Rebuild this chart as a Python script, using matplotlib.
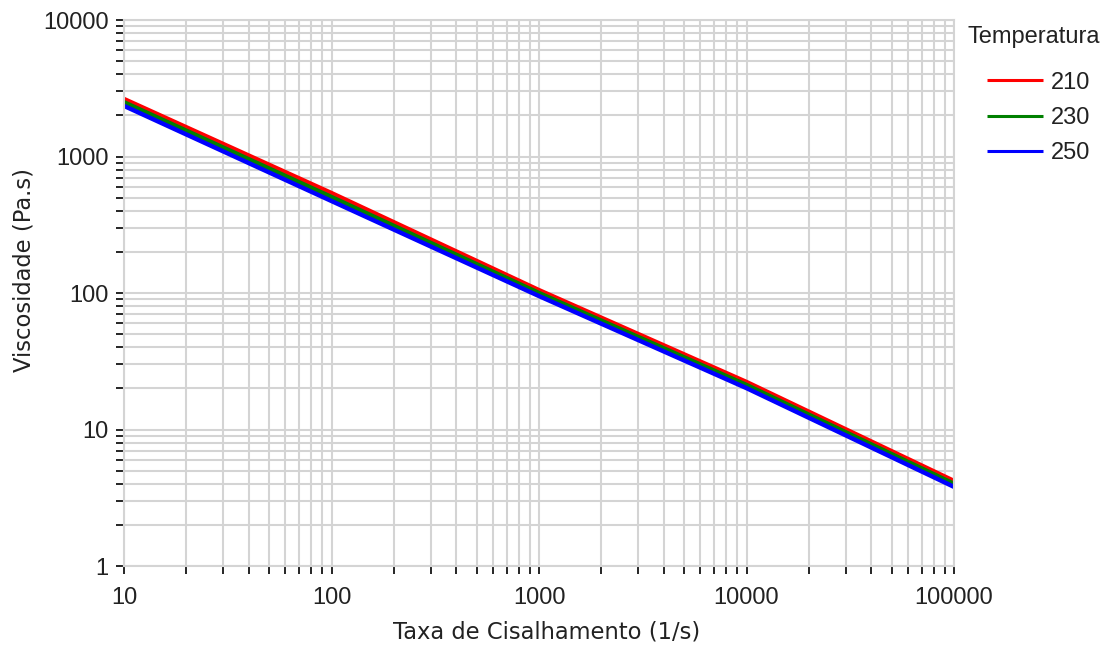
import matplotlib
matplotlib.use('Agg')
import matplotlib.pyplot as plt

# Taxa de cisalhamento (1/s) e viscosidade (Pa.s)
shear_rate = [10, 100, 1000, 10000, 100000]
visc_210 = [2640, 540, 105, 22.3, 4.2]
visc_230 = [2500, 505, 100, 21.2, 4.0]
visc_250 = [2350, 472, 95, 20.1, 3.8]
labels = ['210', '230', '250']
colors = ['#ff0000', '#008000', '#0000ff']

x_ticks = [10, 100, 1000, 10000, 100000]
y_ticks = [1, 10, 100, 1000, 10000]

plt.rcParams['font.family'] = ['Liberation Sans', 'DejaVu Sans']
txt = '#222222'
grid_c = '#d4d4d4'

fig = plt.figure(figsize=(11.1, 6.46), dpi=100)
ax = fig.add_axes([0.1117, 0.1238, 0.7478, 0.8452])

for ys, lab, c in zip([visc_210, visc_230, visc_250], labels, colors):
    ax.plot(shear_rate, ys, color=c, lw=3.2, label=lab, solid_capstyle='butt')

ax.set_xscale('log')
ax.set_yscale('log')
ax.set_xlim(10, 100000)
ax.set_ylim(1, 10000)
ax.set_xticks(x_ticks)
ax.set_xticklabels([str(v) for v in x_ticks])
ax.set_yticks(y_ticks)
ax.set_yticklabels([str(v) for v in y_ticks])

ax.grid(True, which='both', color=grid_c, lw=1.5)
ax.set_axisbelow(True)
for s in ax.spines.values():
    s.set_color(grid_c)
    s.set_linewidth(1.5)

ax.tick_params(which='both', direction='out', length=6, width=1.2, color='black',
               labelsize=17, labelcolor=txt)
ax.tick_params(axis='x', pad=9)
ax.tick_params(axis='y', pad=5)

ax.set_xlabel('Taxa de Cisalhamento (1/s)', fontsize=16.3, color=txt,
              family=['DejaVu Sans'])
ax.set_ylabel('Viscosidade (Pa.s)', fontsize=16.3, color=txt,
              family=['DejaVu Sans'])
ax.xaxis.set_label_coords(0.509, -0.099)
ax.yaxis.set_label_coords(-0.107, 0.542)

fig.text(968 / 1110, 1 - 37 / 646, 'Temperatura', fontsize=17, color=txt,
         ha='left', va='center')
leg = ax.legend(loc='upper left', bbox_to_anchor=(0.889, 0.889),
                bbox_transform=fig.transFigure, frameon=False, fontsize=17,
                handlelength=2.4, labelspacing=0.56, handletextpad=0.3,
                borderaxespad=0, borderpad=0)
for t in leg.get_texts():
    t.set_color(txt)
for h in leg.legend_handles:
    h.set_linewidth(2.2)

fig.savefig('out.png', dpi=100)
